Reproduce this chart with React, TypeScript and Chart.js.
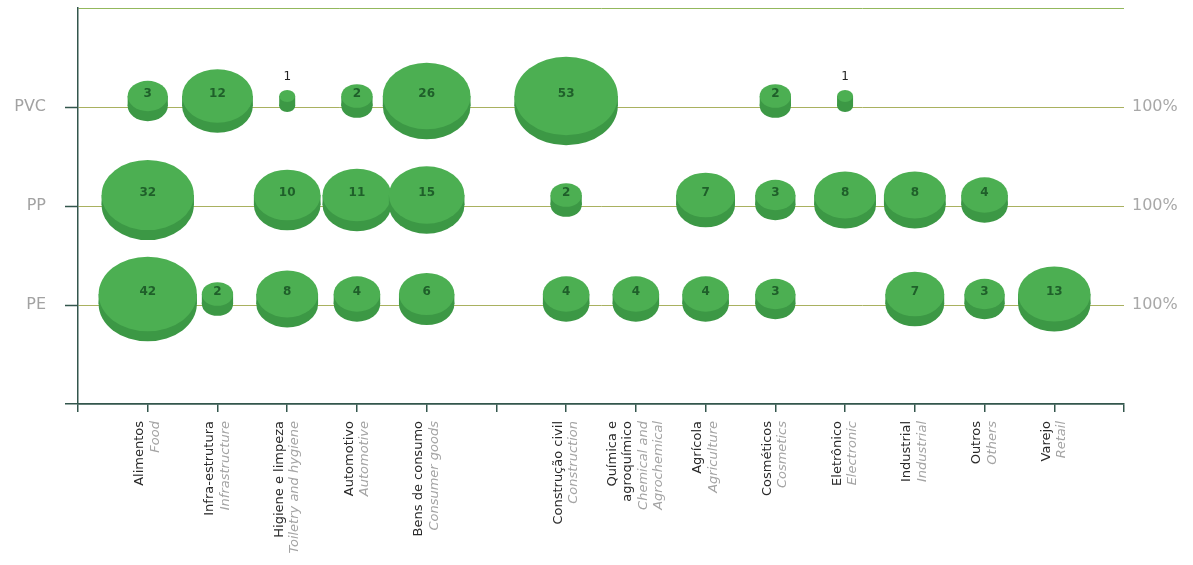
import React, { useEffect, useRef } from 'react';
import { Chart, registerables } from 'chart.js';

Chart.register(...registerables);

// Rows (bottom to top)
const materials = ['PE', 'PP', 'PVC'];
const rowTotalLabel = '100%';

// Category slots on the x axis (an empty slot leaves the gap after "Bens de consumo")
const categoriesPt: string[][] = [
  ['Alimentos'],
  ['Infra-estrutura'],
  ['Higiene e limpeza'],
  ['Automotivo'],
  ['Bens de consumo'],
  [],
  ['Construção civil'],
  ['Química e', 'agroquímico'],
  ['Agrícola'],
  ['Cosméticos'],
  ['Eletrônico'],
  ['Industrial'],
  ['Outros'],
  ['Varejo'],
];
const categoriesEn: string[][] = [
  ['Food'],
  ['Infrastructure'],
  ['Toiletry and hygiene'],
  ['Automotive'],
  ['Consumer goods'],
  [],
  ['Construction'],
  ['Chemical and', 'Agrochemical'],
  ['Agriculture'],
  ['Cosmetics'],
  ['Electronic'],
  ['Industrial'],
  ['Others'],
  ['Retail'],
];

// Share (%) of each application per material
const peShare: (number | null)[] = [42, 2, 8, 4, 6, null, 4, 4, 4, 3, null, 7, 3, 13];
const ppShare: (number | null)[] = [32, null, 10, 11, 15, null, 2, null, 7, 3, 8, 8, 4, null];
const pvcShare: (number | null)[] = [3, 12, 1, 2, 26, null, 53, null, null, 2, 1, null, null, null];

const seriesByMaterial = [peShare, ppShare, pvcShare];

const AXIS = '#33564c';
const ROW = '#a9b160';
const TOP = '#93b85c';
const DISK_TOP = '#4caf52';
const DISK_RIM = '#3c9845';
const DISK_TEXT = '#1f5f2a';
const THICK = 10;
const LH = 15.5;

function radiusFor(v: number) {
  return 8 + 11 * Math.log(v);
}

const diskPlugin = {
  id: 'disks',
  afterDatasetsDraw(chart: any) {
    const ctx = chart.ctx;
    ctx.save();
    chart.data.datasets.forEach((ds: any, d: number) => {
      const meta = chart.getDatasetMeta(d);
      meta.data.forEach((el: any, i: number) => {
        const raw = ds.data[i];
        const rx = raw.r;
        const ry = rx * 0.76;
        const topY = el.y - 6 - THICK / 2;
        const botY = topY + THICK;
        ctx.fillStyle = DISK_RIM;
        ctx.beginPath();
        ctx.ellipse(el.x, botY, rx, ry, 0, 0, Math.PI * 2);
        ctx.fill();
        ctx.fillRect(el.x - rx, topY, rx * 2, THICK);
        ctx.fillStyle = DISK_TOP;
        ctx.beginPath();
        ctx.ellipse(el.x, topY, rx, ry, 0, 0, Math.PI * 2);
        ctx.fill();
        ctx.textAlign = 'center';
        ctx.textBaseline = 'middle';
        if (raw.v > 1) {
          ctx.font = 'bold 12px "DejaVu Sans"';
          ctx.fillStyle = DISK_TEXT;
          ctx.fillText(String(raw.v), el.x, topY - 2);
        } else {
          ctx.font = '12px "DejaVu Sans"';
          ctx.fillStyle = '#222222';
          ctx.fillText(String(raw.v), el.x, topY - ry - 13);
        }
      });
    });
    ctx.restore();
  },
  afterDraw(chart: any) {
    const ctx = chart.ctx;
    const xs = chart.scales.x;
    ctx.save();
    categoriesPt.forEach((pt, i) => {
      const lines = [
        ...pt.map((t) => ({ t, en: false })),
        ...categoriesEn[i].map((t) => ({ t, en: true })),
      ];
      if (!lines.length) return;
      const px = xs.getPixelForValue(i + 1);
      ctx.save();
      ctx.translate(px, xs.top + 17);
      ctx.rotate(-Math.PI / 2);
      ctx.textAlign = 'right';
      ctx.textBaseline = 'middle';
      lines.forEach((ln, j) => {
        ctx.font = ln.en ? 'italic 13px "DejaVu Sans"' : '13px "DejaVu Sans"';
        ctx.fillStyle = ln.en ? '#a4a4a4' : '#2a2a2a';
        ctx.fillText(ln.t, 0, (j - (lines.length - 1) / 2) * LH);
      });
      ctx.restore();
    });
    ctx.restore();
  },
};

export default function App() {
  const ref = useRef<HTMLCanvasElement | null>(null);
  useEffect(() => {
    if (!ref.current) return;
    const datasets = seriesByMaterial.map((series, m) => ({
      label: materials[m],
      data: series
        .map((v, i) => (v == null ? null : { x: i + 1, y: m + 1, r: radiusFor(v), v }))
        .filter((p) => p !== null) as any[],
      backgroundColor: 'rgba(0,0,0,0)',
      borderColor: 'rgba(0,0,0,0)',
      borderWidth: 0,
      hoverRadius: 0,
    }));
    const noPad = (s: any) => {
      s.paddingTop = 0;
      s.paddingBottom = 0;
      s.paddingLeft = 0;
      s.paddingRight = 0;
    };
    const chart = new Chart(ref.current, {
      type: 'bubble',
      data: { datasets },
      options: {
        animation: false,
        responsive: true,
        maintainAspectRatio: false,
        events: [],
        layout: { autoPadding: false, padding: { top: 8, left: 0, right: 0, bottom: 0 } },
        plugins: { legend: { display: false }, tooltip: { enabled: false } },
        scales: {
          x: {
            type: 'linear',
            min: 0,
            max: categoriesPt.length + 1,
            ticks: { stepSize: 1, autoSkip: false, callback: () => '', maxRotation: 0 },
            grid: {
              drawOnChartArea: false,
              drawTicks: true,
              tickLength: 8,
              color: AXIS,
              lineWidth: 1.5,
            },
            border: { color: AXIS, width: 1.5 },
            afterFit: (s: any) => {
              s.height = 161;
              noPad(s);
            },
          },
          y: {
            type: 'linear',
            position: 'left',
            min: 0,
            max: materials.length + 1,
            ticks: {
              stepSize: 1,
              padding: 19,
              color: '#a2a2a2',
              font: { family: '"DejaVu Sans"', size: 16 },
              callback: (v: any) => materials[Number(v) - 1] ?? '',
            },
            grid: {
              color: (c: any) =>
                c.tick.value === 0 ? AXIS : c.tick.value === materials.length + 1 ? TOP : ROW,
              lineWidth: (c: any) => (c.tick.value === 0 ? 1.5 : 1),
              tickColor: (c: any) =>
                c.tick.value === materials.length + 1 ? 'rgba(0,0,0,0)' : AXIS,
              tickWidth: 1.5,
              tickLength: 13,
            },
            border: { color: AXIS, width: 1.5 },
            afterFit: (s: any) => {
              s.width = 78;
              noPad(s);
            },
          },
          y2: {
            type: 'linear',
            position: 'right',
            min: 0,
            max: materials.length + 1,
            ticks: {
              stepSize: 1,
              padding: 8,
              color: '#a8a8a8',
              font: { family: '"DejaVu Sans"', size: 16 },
              callback: (v: any) =>
                Number(v) >= 1 && Number(v) <= materials.length ? rowTotalLabel : '',
            },
            grid: { display: false, drawTicks: false },
            border: { display: false },
            afterFit: (s: any) => {
              s.width = 69;
              noPad(s);
            },
          },
        },
      },
      plugins: [diskPlugin],
    });
    return () => chart.destroy();
  }, []);
  return (
    <div style={{ position: 'fixed', left: 0, top: 0, width: 1193, height: 565, background: '#fff' }}>
      <canvas ref={ref} />
    </div>
  );
}
